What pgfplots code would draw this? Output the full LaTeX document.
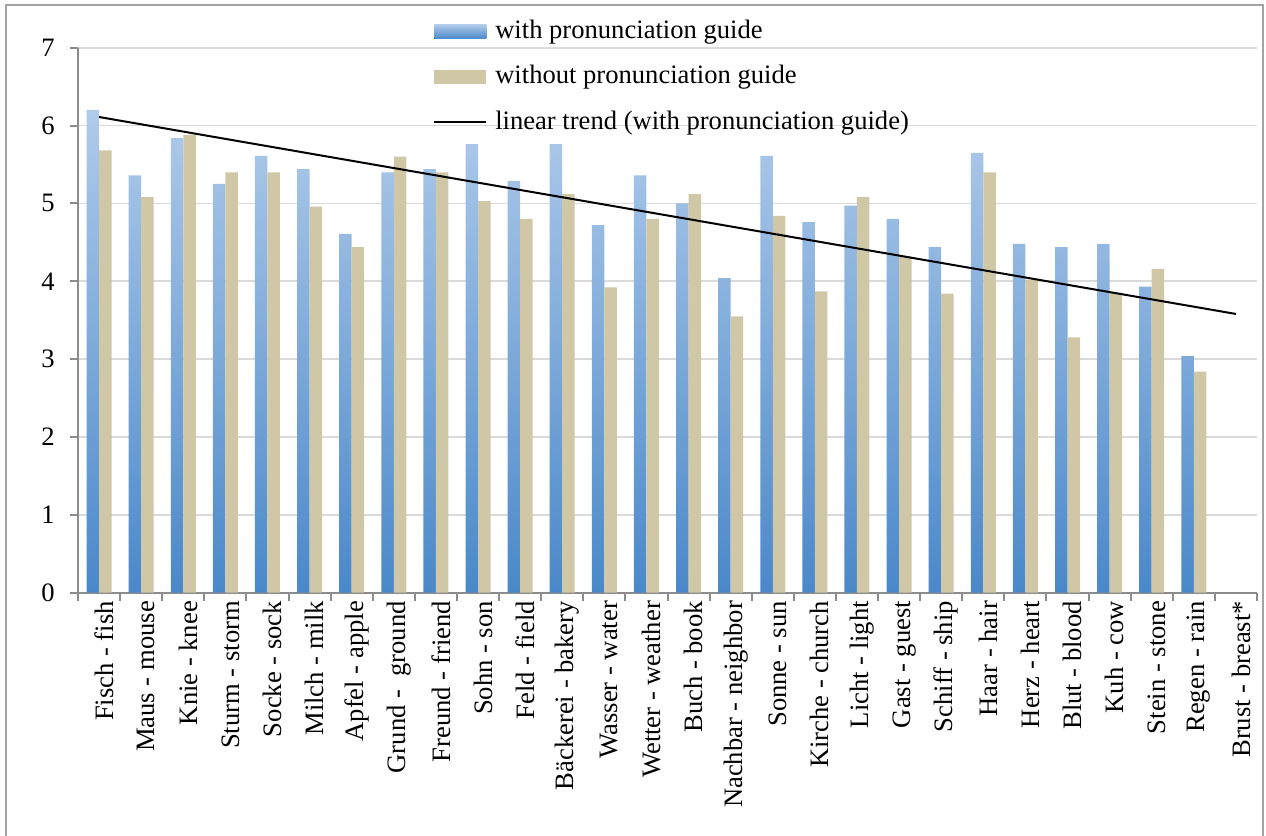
\documentclass[border=0pt]{standalone}
\usepackage{fontspec}
\setmainfont{Liberation Serif}
\usepackage{pgfplots}
\usepackage{pgfplotstable}
\pgfplotsset{compat=1.18}

\definecolor{blueTop}{HTML}{B0CBEA}
\definecolor{blueBot}{HTML}{4A88C9}
\definecolor{bartan}{HTML}{D0C7A6}
\definecolor{gridgray}{HTML}{DADADA}
\definecolor{axisgray}{HTML}{8C8C8C}
\definecolor{framegray}{HTML}{A3A3A3}

% mean ratings per word pair
\pgfplotstableread{
idx with without
0  6.20 5.68
1  5.36 5.08
2  5.84 5.88
3  5.25 5.40
4  5.61 5.40
5  5.44 4.96
6  4.61 4.44
7  5.40 5.60
8  5.44 5.40
9  5.76 5.03
10 5.29 4.80
11 5.76 5.12
12 4.72 3.92
13 5.36 4.80
14 5.00 5.12
15 4.04 3.55
16 5.61 4.84
17 4.76 3.87
18 4.97 5.08
19 4.80 4.32
20 4.44 3.84
21 5.65 5.40
22 4.48 4.02
23 4.44 3.28
24 4.48 3.85
25 3.93 4.16
26 3.04 2.84
}\ratings

% end points of the linear trend line
\pgfplotstableread{
idx trend
0  6.11
27 3.58
}\trend

\newcommand\lblfont{\fontsize{13.3}{16}\selectfont}

\begin{document}
\begin{tikzpicture}
\useasboundingbox (0pt,0pt) rectangle (633pt,418pt);
\draw[framegray, line width=1pt] (3pt,-2pt) -- (3pt,415.5pt) -- (631.5pt,415.5pt) -- (631.5pt,-2pt);
\begin{axis}[
  at={(39pt,121.65pt)}, anchor=south west,
  scale only axis, width=589.5pt, height=272.5pt,
  xmin=-0.5, xmax=27.5, ymin=0, ymax=7,
  axis x line*=bottom, axis y line*=left,
  axis line style={draw=axisgray, line width=1pt, -},
  ytick={0,1,...,7},
  xtick={0,1,...,27},
  xticklabels={Fisch - fish, Maus - mouse, Knie - knee, Sturm - storm,
    Socke - sock, Milch - milk, Apfel - apple, Grund -~ ground,
    Freund - friend, Sohn - son, Feld - field, Bäckerei - bakery,
    Wasser - water, Wetter - weather, Buch - book, Nachbar - neighbor,
    Sonne - sun, Kirche - church, Licht - light, Gast - guest,
    Schiff - ship, Haar - hair, Herz - heart, Blut - blood,
    Kuh - cow, Stein - stone, Regen - rain, Brust - breast*},
  minor xtick={-0.5,0.5,...,27.5},
  tick align=outside,
  major tick length=4pt, minor tick length=4pt,
  xtick pos=bottom, ytick pos=left,
  major x tick style={draw=none},
  minor x tick style={draw=axisgray, line width=1pt},
  ytick style={draw=axisgray, line width=1pt},
  ymajorgrids, grid style={draw=gridgray, line width=0.9pt},
  /pgf/number format/assume math mode=true,
  tick label style={font=\lblfont},
  yticklabel style={inner sep=0pt, xshift=-7.5pt},
  xticklabel style={rotate=90, anchor=east, inner sep=0pt, yshift=-2.5pt},
  legend style={at={(0.301,1.054)}, anchor=north west, draw=none, fill=none,
    font=\lblfont, row sep=9.6pt, column sep=4pt, inner sep=0pt,
    nodes={inner sep=0pt, text height=10pt, text depth=3pt}},
  legend cell align=left,
]
\addplot[ybar, bar width=6.25pt, bar shift=-3.125pt, draw=none,
  top color=blueTop, bottom color=blueBot,
  legend image code/.code={\fill[top color=blueTop, bottom color=blueBot] (0pt,-3.5pt) rectangle (26pt,3.5pt);}]
  table[x=idx, y=with] {\ratings};
\addlegendentry{with pronunciation guide}
\addplot[ybar, bar width=6.25pt, bar shift=3.125pt, draw=none, fill=bartan,
  legend image code/.code={\fill[bartan] (0pt,-3.5pt) rectangle (26pt,3.5pt);}]
  table[x=idx, y=without] {\ratings};
\addlegendentry{without pronunciation guide}
\addplot[black, line width=1pt, mark=none,
  legend image code/.code={\draw[black, line width=1pt] (0pt,0pt) -- (26pt,0pt);}]
  table[x=idx, y=trend] {\trend};
\addlegendentry{linear trend (with pronunciation guide)}
\end{axis}
\end{tikzpicture}
\end{document}
